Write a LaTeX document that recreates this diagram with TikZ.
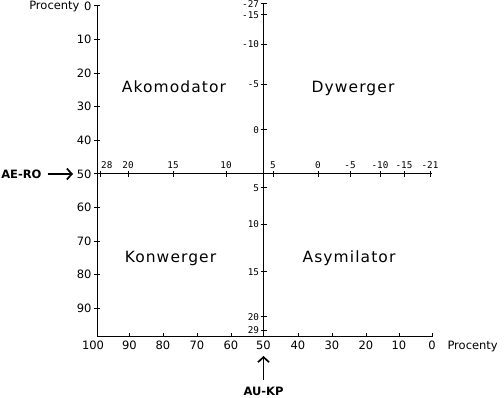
\documentclass[tikz,border=0pt]{standalone}
\usepackage{fontspec}
\usetikzlibrary{arrows.meta}
\setmainfont{DejaVu Sans}
\newfontfamily\quadfont[LetterSpace=7]{DejaVu Sans}
\newfontfamily\smallnum{DejaVu Sans Mono}

\begin{document}
\begin{tikzpicture}[x=1pt, y=-1pt, line width=1pt,
  quad/.style={font=\quadfont\fontsize{15.5}{18}\selectfont, anchor=base, inner sep=0},
  num/.style={font=\fontsize{11.5}{14}\selectfont, inner sep=0},
  small/.style={font=\smallnum\fontsize{9.3}{11}\selectfont, inner sep=0},
  tag/.style={font=\bfseries\fontsize{11.5}{14}\selectfont},
  pointer/.style={-{Straight Barb[length=5pt, width=11pt]}, line width=1.7pt}]
\useasboundingbox (0,0) rectangle (504,398);
% Axes
\draw (97,6) -- (97,337) -- (432,337);
\draw (97,174) -- (432,174);
\draw (263.5,4) -- (263.5,337);
% Left scale
\node[num, anchor=base east] (procleft) at (80,9.7) {Procenty};
\draw (94,6) -- (100,6) node[num, pos=0, anchor=east, xshift=-2pt] (lft0) {0};
\draw (94,39.6) -- (100,39.6) node[num, pos=0, anchor=east, xshift=-2pt] (lft10) {10};
\draw (94,73.2) -- (100,73.2) node[num, pos=0, anchor=east, xshift=-2pt] (lft20) {20};
\draw (94,106.8) -- (100,106.8) node[num, pos=0, anchor=east, xshift=-2pt] (lft30) {30};
\draw (94,140.4) -- (100,140.4) node[num, pos=0, anchor=east, xshift=-2pt] (lft40) {40};
\draw (94,174) -- (100,174) node[num, pos=0, anchor=east, xshift=-2pt] (lft50) {50};
\draw (94,207.6) -- (100,207.6) node[num, pos=0, anchor=east, xshift=-2pt] (lft60) {60};
\draw (94,241.2) -- (100,241.2) node[num, pos=0, anchor=east, xshift=-2pt] (lft70) {70};
\draw (94,274.8) -- (100,274.8) node[num, pos=0, anchor=east, xshift=-2pt] (lft80) {80};
\draw (94,308.4) -- (100,308.4) node[num, pos=0, anchor=east, xshift=-2pt] (lft90) {90};
% Bottom scale
\node[num, anchor=north] (bot100) at (93,340.5) {100};
\draw (129.5,337) -- (129.5,333) node[num, pos=0, anchor=north, yshift=-3.5pt] (bot90) {90};
\draw (163,337) -- (163,333) node[num, pos=0, anchor=north, yshift=-3.5pt] (bot80) {80};
\draw (197,337) -- (197,333) node[num, pos=0, anchor=north, yshift=-3.5pt] (bot70) {70};
\draw (231,337) -- (231,333) node[num, pos=0, anchor=north, yshift=-3.5pt] (bot60) {60};
\draw (263.5,337) -- (263.5,333) node[num, pos=0, anchor=north, yshift=-3.5pt] (bot50) {50};
\draw (298,337) -- (298,333) node[num, pos=0, anchor=north, yshift=-3.5pt] (bot40) {40};
\draw (332,337) -- (332,333) node[num, pos=0, anchor=north, yshift=-3.5pt] (bot30) {30};
\draw (366,337) -- (366,333) node[num, pos=0, anchor=north, yshift=-3.5pt] (bot20) {20};
\draw (399,337) -- (399,333) node[num, pos=0, anchor=north, yshift=-3.5pt] (bot10) {10};
\draw (432,337) -- (432,333) node[num, pos=0, anchor=north, yshift=-3.5pt] (bot0) {0};
\node[num, anchor=base west] (procbottom) at (447,349.2) {Procenty};
% Middle horizontal scale
\draw (100.7,171) -- (100.7,177) node[small, pos=0, anchor=south west, yshift=1.5pt] (mh28) {28};
\draw (128,171) -- (128,177) node[small, pos=0, anchor=south, yshift=1.5pt] (mh20) {20};
\draw (173,171) -- (173,177) node[small, pos=0, anchor=south, yshift=1.5pt] (mh15) {15};
\draw (226,171) -- (226,177) node[small, pos=0, anchor=south, yshift=1.5pt] (mh10) {10};
\draw (273,171) -- (273,177) node[small, pos=0, anchor=south, yshift=1.5pt] (mh5) {5};
\draw (318,171) -- (318,177) node[small, pos=0, anchor=south, yshift=1.5pt] (mh0) {0};
\draw (350,171) -- (350,177) node[small, pos=0, anchor=south, yshift=1.5pt] (mhm5) {-5};
\draw (380,171) -- (380,177) node[small, pos=0, anchor=south, yshift=1.5pt] (mhm10) {-10};
\draw (404,171) -- (404,177) node[small, pos=0, anchor=south, yshift=1.5pt] (mhm15) {-15};
\draw (430,171) -- (430,177) node[small, pos=0, anchor=south, yshift=1.5pt] (mhm21) {-21};
% Middle vertical scale
\draw (260.5,4) -- (266.5,4) node[small, pos=0, anchor=east, xshift=-1pt] (mvm27) {-27};
\draw (260.5,15) -- (266.5,15) node[small, pos=0, anchor=east, xshift=-1pt] (mvm15) {-15};
\draw (260.5,44.5) -- (266.5,44.5) node[small, pos=0, anchor=east, xshift=-1pt] (mvm10) {-10};
\draw (260.5,84.5) -- (266.5,84.5) node[small, pos=0, anchor=east, xshift=-1pt] (mvm5) {-5};
\draw (260.5,130) -- (266.5,130) node[small, pos=0, anchor=east, xshift=-1pt] (mv0) {0};
\draw (260.5,188) -- (266.5,188) node[small, pos=0, anchor=east, xshift=-1pt] (mv5) {5};
\draw (260.5,224.5) -- (266.5,224.5) node[small, pos=0, anchor=east, xshift=-1pt] (mv10) {10};
\draw (260.5,272) -- (266.5,272) node[small, pos=0, anchor=east, xshift=-1pt] (mv15) {15};
\draw (260.5,317) -- (266.5,317) node[small, pos=0, anchor=east, xshift=-1pt] (mv20) {20};
\draw (260.5,330.5) -- (266.5,330.5) node[small, pos=0, anchor=east, xshift=-1pt] (mv29) {29};
% Quadrants
\node[quad] (akomodator) at (174,92.5) {Akomodator};
\node[quad] (dywerger) at (353,92.5) {Dywerger};
\node[quad] (konwerger) at (170.5,262.5) {Konwerger};
\node[quad] (asymilator) at (349,262.5) {Asymilator};
% Pointers
\node[tag, anchor=east, inner xsep=6pt] (aero) at (48,174) {AE-RO};
\coordinate (aerohead) at (73,174);
\draw[pointer] (aero) -- (aerohead);
\node[tag, inner xsep=0pt, inner ysep=7.3pt] (aukp) at (263.5,391.7) {AU-KP};
\coordinate (aukphead) at (263.5,356);
\draw[pointer] (aukp) -- (aukphead);
\end{tikzpicture}
\end{document}
